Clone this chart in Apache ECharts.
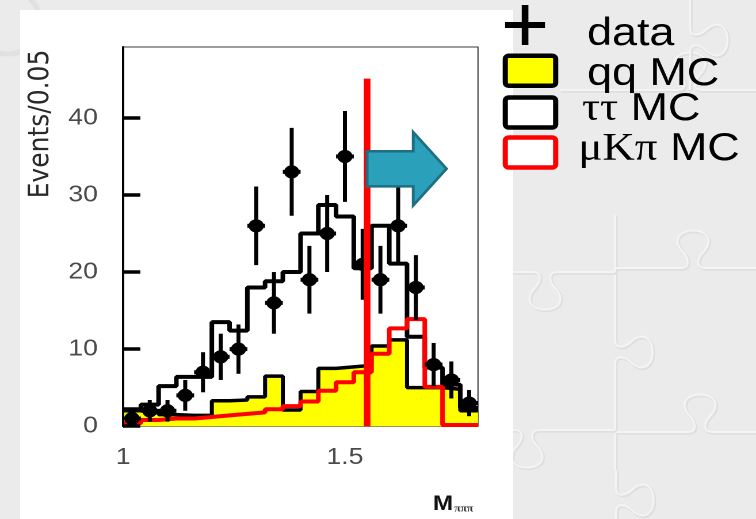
<!DOCTYPE html>
<html>
<head>
<meta charset="utf-8">
<script src="https://cdn.jsdelivr.net/npm/echarts@6/dist/echarts.min.js"></script>
<style>
  html, body { margin: 0; padding: 0; width: 756px; height: 519px; overflow: hidden; background: #ebebeb; }
  #backdrop { position: absolute; left: 0; top: 0; width: 756px; height: 519px; }
  #panel { position: absolute; left: 20px; top: 10px; width: 493px; height: 509px; background: #ffffff; }
  /* the figure is drawn at 657px wide and widened to the full 756px */
  #chart { position: absolute; left: 0; top: 0; width: 657px; height: 519px;
           transform: scaleX(1.150685); transform-origin: 0 0; }
</style>
</head>
<body>
<svg id="backdrop" xmlns="http://www.w3.org/2000/svg"></svg>
<div id="panel"></div>
<div id="chart"></div>
<script>
// Histogram binning in M (20 bins)
const binEdges = [1.00, 1.04, 1.08, 1.12, 1.16, 1.20, 1.24, 1.28, 1.32, 1.36, 1.40,
                  1.44, 1.48, 1.52, 1.56, 1.60, 1.64, 1.68, 1.72, 1.76, 1.80];

// Observed events per bin and their errors
const dataCounts = [1, 2, 2, 4, 7, 9, 10, 26, 16, 33, 19, 25, 35, 21, 19, 26, 18, 8, 6, 3];
const dataErrors = [1.0, 1.4, 1.4, 2.0, 2.6, 3.0, 3.2, 5.1, 4.0, 5.7, 4.4, 5.0, 5.9, 4.6, 4.4, 5.1, 4.2, 2.8, 2.4, 1.7];

// Monte Carlo expectations per bin
const qqMC     = [2.0, 2.0, 1.5, 1.4, 1.4, 3.3, 3.4, 3.8, 6.5, 2.1, 4.5, 7.5, 7.7, 7.9, 10.4, 11.2, 5.0, 5.0, 4.8, 2.0];
const tautauMC = [2.2, 2.8, 5.2, 6.4, 6.4, 13.5, 12.4, 18.0, 18.8, 20.0, 25.0, 28.7, 27.2, 20.5, 26.0, 21.1, 11.6, 7.6, 5.4, 2.4];
const muKpiMC  = [0.4, 0.8, 1.0, 1.0, 1.2, 1.4, 1.6, 1.8, 2.2, 2.6, 3.2, 4.6, 5.7, 7.0, 9.4, 12.7, 13.9, 5.1, 0.15, 0.15];

// Axis ticks
const xTickValues = [1, 1.5];
const yTickValues = [0, 10, 20, 30, 40];

// Selection cut and the arrow pointing at the accepted region
const cutMass = 1.55;
const cutLineTop = 45.1;
const arrowNeck = 1.654, arrowTip = 1.729;
const arrowMid = 33.4, arrowBodyHalf = 2.28, arrowHeadHalf = 4.75;

// Legend entries
const legendNames = ['data', 'qq MC', 'ττ MC', 'μKπ MC'];

// ---- embossed jigsaw backdrop (page decoration) ----
(function drawBackdrop() {
  // horizontal seam with one knob: from xa to xb at height y, knob centred at xc, dir -1 up / +1 down
  function hSeam(xa, xb, y, xc, dir) {
    const d = dir;
    return `M${xa},${y} L${xc - 12},${y} C${xc - 4},${y} ${xc - 2},${y + d * 8} ${xc - 12},${y + d * 18} ` +
           `C${xc - 30},${y + d * 44} ${xc + 30},${y + d * 44} ${xc + 12},${y + d * 18} ` +
           `C${xc + 2},${y + d * 8} ${xc + 4},${y} ${xc + 12},${y} L${xb},${y}`;
  }
  function vSeam(ya, yb, x, yc, dir) {
    const d = dir;
    return `M${x},${ya} L${x},${yc - 12} C${x},${yc - 4} ${x + d * 8},${yc - 2} ${x + d * 18},${yc - 12} ` +
           `C${x + d * 44},${yc - 30} ${x + d * 44},${yc + 30} ${x + d * 18},${yc + 12} ` +
           `C${x + d * 8},${yc + 2} ${x},${yc + 4} ${x},${yc + 12} L${x},${yb}`;
  }
  const seams = [
    vSeam(215, 470, 615, 352, 1),
    vSeam(470, 530, 616, 500, 1),
    hSeam(615, 760, 268, 693, -1),
    hSeam(505, 615, 272, 545, 1),
    hSeam(615, 760, 432, 700, -1),
    hSeam(505, 615, 430, 527, 1),
    hSeam(560, 760, 90, 690, -1),
    vSeam(-10, 90, 690, 40, 1)
  ];
  const svg = document.getElementById('backdrop');
  let html = '';
  seams.forEach(d => {
    html += `<path d="${d}" fill="none" stroke="#dfdfdf" stroke-width="3" transform="translate(1.2,1.2)"/>`;
    html += `<path d="${d}" fill="none" stroke="#f4f4f4" stroke-width="2"/>`;
  });
  html += `<circle cx="8" cy="22" r="32" fill="none" stroke="#e1e1e1" stroke-width="5"/>`;
  svg.innerHTML = html;
})();

const binCenters = dataCounts.map((_, i) => (binEdges[i] + binEdges[i + 1]) / 2);
const halfBin = (binEdges[1] - binEdges[0]) / 2;

function stepPoints(vals) {
  const pts = vals.map((v, i) => [binEdges[i], v]);
  pts.push([binEdges[binEdges.length - 1], vals[vals.length - 1]]);
  return pts;
}

const chart = echarts.init(document.getElementById('chart'), null, { renderer: 'canvas', devicePixelRatio: 2 });

const sansFont = 'Liberation Sans';
const serifFont = 'Liberation Serif';

chart.setOption({
  animation: false,
  backgroundColor: 'transparent',
  grid: { left: 107, top: 47, right: 241.6, bottom: 92.8, show: true, borderColor: '#3a3a3a', borderWidth: 1 },
  xAxis: {
    type: 'value', min: 1, max: 1.8,
    axisLine: { show: true, onZero: false, lineStyle: { color: '#777755', width: 1 } },
    axisTick: { show: false },
    axisLabel: { customValues: xTickValues, color: '#4a4a4a', fontFamily: sansFont, fontSize: 23, margin: 20 },
    splitLine: { show: false }
  },
  yAxis: {
    type: 'value', min: 0, max: 49.2, z: 10,
    axisLine: { show: true, lineStyle: { color: '#000', width: 2 } },
    axisTick: { show: true, inside: true, length: 15, customValues: yTickValues, lineStyle: { color: '#000', width: 3.5 } },
    axisLabel: { customValues: yTickValues, color: '#4a4a4a', fontFamily: sansFont, fontSize: 23, margin: 22 },
    splitLine: { show: false }
  },
  series: [
    {
      name: legendNames[1], type: 'line', step: 'end', symbol: 'none', z: 2,
      data: stepPoints(qqMC),
      lineStyle: { color: '#000', width: 3.5 },
      areaStyle: { color: '#ffff00', opacity: 1 }
    },
    {
      name: legendNames[2], type: 'line', step: 'end', symbol: 'none', z: 3,
      data: stepPoints(tautauMC),
      lineStyle: { color: '#000', width: 4 }
    },
    {
      name: legendNames[3], type: 'line', step: 'end', symbol: 'none', z: 4,
      data: stepPoints(muKpiMC),
      lineStyle: { color: '#ff0000', width: 4 }
    },
    {
      name: legendNames[0], type: 'custom', z: 5,
      data: dataCounts.map((v, i) => [binCenters[i], v, dataErrors[i]]),
      renderItem: function (params, api) {
        const x = api.value(0), y = api.value(1), e = api.value(2);
        const c = api.coord([x, y]);
        const top = api.coord([x, y + e]);
        const bot = api.coord([x, Math.max(0, y - e)]);
        const l = api.coord([x - halfBin, y]);
        const r = api.coord([x + halfBin, y]);
        return {
          type: 'group',
          children: [
            { type: 'line', shape: { x1: c[0], y1: top[1], x2: c[0], y2: bot[1] }, style: { stroke: '#000', lineWidth: 3.5 } },
            { type: 'line', shape: { x1: l[0], y1: c[1], x2: r[0], y2: c[1] }, style: { stroke: '#000', lineWidth: 4 } },
            { type: 'circle', shape: { cx: c[0], cy: c[1], r: 6.6 }, style: { fill: '#000' } }
          ]
        };
      }
    },
    {
      name: 'cut', type: 'line', symbol: 'none', z: 7,
      data: [[cutMass, 0], [cutMass, cutLineTop]],
      lineStyle: { color: '#ff0000', width: 5.8 }
    },
    {
      name: 'arrow', type: 'custom', z: 8,
      data: [[cutMass, arrowMid]],
      renderItem: function (params, api) {
        const pts = [
          [cutMass, arrowMid - arrowBodyHalf],
          [arrowNeck, arrowMid - arrowBodyHalf],
          [arrowNeck, arrowMid - arrowHeadHalf],
          [arrowTip, arrowMid],
          [arrowNeck, arrowMid + arrowHeadHalf],
          [arrowNeck, arrowMid + arrowBodyHalf],
          [cutMass, arrowMid + arrowBodyHalf]
        ].map(p => api.coord(p));
        return {
          type: 'polygon',
          shape: { points: pts },
          style: { fill: '#2ba0bb', stroke: '#1e6f82', lineWidth: 2.5, lineJoin: 'miter' }
        };
      }
    }
  ],
  graphic: [
    // axis titles
    {
      type: 'text', x: 35.6, y: 124, rotation: Math.PI / 2, z: 20,
      style: { text: 'Events/0.05', fill: '#2a2a2a', fontFamily: 'DejaVu Sans', fontSize: 25, align: 'center', verticalAlign: 'middle' }
    },
    {
      type: 'text', x: 376.3, y: 504, z: 20,
      style: {
        text: '{m|M}{s|πππ}', align: 'left', verticalAlign: 'middle',
        rich: {
          m: { fontFamily: sansFont, fontSize: 21, fontWeight: 'bold', fill: '#111' },
          s: { fontFamily: serifFont, fontSize: 10, fontWeight: 'bold', fill: '#333', padding: [10, 0, 0, 1] }
        }
      }
    },
    // legend: data cross
    { type: 'rect', z: 20, shape: { x: 438.9, y: 22, width: 34.7, height: 6 }, style: { fill: '#000' } },
    { type: 'rect', z: 20, shape: { x: 453.4, y: 5, width: 5.8, height: 40 }, style: { fill: '#000' } },
    {
      type: 'text', x: 510.2, y: 34.3, z: 20,
      style: { text: legendNames[0], fill: '#000', fontFamily: sansFont, fontSize: 39, align: 'left', verticalAlign: 'middle' }
    },
    // legend: qq MC
    { type: 'rect', z: 20, shape: { x: 439.1, y: 55.8, width: 43.8, height: 30, r: 3 }, style: { fill: '#ffff00', stroke: '#000', lineWidth: 4.5 } },
    {
      type: 'text', x: 510.2, y: 74.3, z: 20,
      style: { text: legendNames[1], fill: '#000', fontFamily: sansFont, fontSize: 39, align: 'left', verticalAlign: 'middle' }
    },
    // legend: tau tau MC
    { type: 'rect', z: 20, shape: { x: 439.1, y: 97.5, width: 43.8, height: 30, r: 3 }, style: { fill: '#ffffff', stroke: '#000', lineWidth: 4.5 } },
    {
      type: 'text', x: 505.8, y: 109.3, z: 20,
      style: {
        text: '{g|ττ}{t| MC}', align: 'left', verticalAlign: 'middle',
        rich: {
          g: { fontFamily: serifFont, fontSize: 39, fill: '#000' },
          t: { fontFamily: sansFont, fontSize: 39, fill: '#000' }
        }
      }
    },
    // legend: mu K pi MC
    { type: 'rect', z: 20, shape: { x: 439.1, y: 137.5, width: 43.8, height: 30, r: 3 }, style: { fill: '#ffffff', stroke: '#ff0000', lineWidth: 4.5 } },
    {
      type: 'text', x: 502.6, y: 149.3, z: 20,
      style: {
        text: '{g|μKπ}{t| MC}', align: 'left', verticalAlign: 'middle',
        rich: {
          g: { fontFamily: serifFont, fontSize: 39, fill: '#000' },
          t: { fontFamily: sansFont, fontSize: 39, fill: '#000' }
        }
      }
    }
  ]
});
</script>
</body>
</html>
